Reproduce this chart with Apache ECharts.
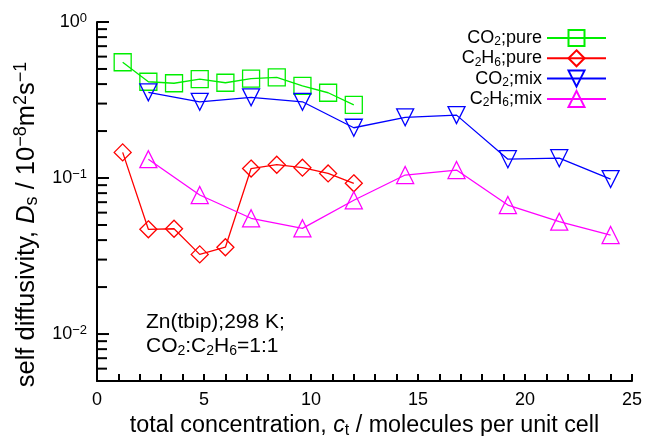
<!DOCTYPE html>
<html><head><meta charset="utf-8">
<script src="https://cdn.jsdelivr.net/npm/echarts@6/dist/echarts.min.js"></script>
<style>html,body{margin:0;padding:0;background:#fff}#c{width:645px;height:436px}</style>
</head><body><div id="c"></div>
<script>
const xPure = [1.2, 2.4, 3.6, 4.8, 6.0, 7.2, 8.4, 9.6, 10.8, 12.0];
const xMix = [2.4, 4.8, 7.2, 9.6, 12.0, 14.4, 16.8, 19.2, 21.6, 24.0];
const co2Pure = [0.552, 0.414, 0.405, 0.431, 0.408, 0.433, 0.442, 0.389, 0.352, 0.294];
const c2h6Pure = [0.146, 0.0469, 0.0473, 0.0324, 0.0360, 0.115, 0.1217, 0.1165, 0.107, 0.0925];
const co2Mix = [0.354, 0.308, 0.329, 0.308, 0.210, 0.245, 0.253, 0.132, 0.134, 0.0985];
const c2h6Mix = [0.132, 0.0778, 0.0552, 0.0476, 0.072, 0.1045, 0.1125, 0.0671, 0.0525, 0.0431];
const yTicks = [0.005,0.006,0.007,0.008,0.009,0.01,0.02,0.03,0.04,0.05,0.06,0.07,0.08,0.09,0.1,0.2,0.3,0.4,0.5,0.6,0.7,0.8,0.9,1];
const seriesNames = ['CO2;pure', 'C2H6;pure', 'CO2;mix', 'C2H6;mix'];
const legendRich = {
  'CO2;pure': '{n|CO}{sub|2}{n|;pure}',
  'C2H6;pure': '{n|C}{sub|2}{n|H}{sub|6}{n|;pure}',
  'CO2;mix': '{n|CO}{sub|2}{n|;mix}',
  'C2H6;mix': '{n|C}{sub|2}{n|H}{sub|6}{n|;mix}'
};
const FONT = 'Liberation Sans, Arial, sans-serif';
function mkRich(fs, ss, off) {
  return {
    n: {fontSize: fs, fontFamily: FONT, color: '#000'},
    i: {fontSize: fs, fontFamily: FONT, color: '#000', fontStyle: 'italic'},
    sub: {fontSize: ss, fontFamily: FONT, color: '#000', verticalAlign: 'bottom', padding: [off, 0, 0, 0]},
    sup: {fontSize: ss, fontFamily: FONT, color: '#000', verticalAlign: 'top', padding: [0, 0, off, 0]}
  };
}
const richLegend = mkRich(18, 12, 8);
const richTick = mkRich(18, 13, 8);
const richX = mkRich(23.3, 16, 10);
const richY = mkRich(25.5, 18, 11);
function pairs(xs, ys) { return xs.map((x, k) => [x, ys[k]]); }
function mk(name, xs, ys, color, symbol, rot) {
  return {
    name, type: 'line', data: pairs(xs, ys), symbol, symbolSize: 17, symbolRotate: rot || 0,
    lineStyle: {color, width: 1.3},
    itemStyle: {color: 'rgba(0,0,0,0)', borderColor: color, borderWidth: 1.3},
    z: 3
  };
}
function isPow10(v) { const lg = Math.log10(v); return Math.abs(lg - Math.round(lg)) < 1e-9; }
const chart = echarts.init(document.getElementById('c'));
chart.setOption({
  animation: false,
  grid: {left: 97, right: 13, top: 22, bottom: 55, outerBoundsMode: 'none'},
  legend: {
    orient: 'vertical', right: 33, top: 24, align: 'right',
    itemWidth: 59, itemHeight: 20, itemGap: 1.3,
    data: seriesNames,
    formatter: n => legendRich[n],
    textStyle: {rich: richLegend, fontSize: 18, fontFamily: FONT}
  },
  xAxis: {
    type: 'value', min: 0, max: 25, interval: 5,
    name: '{n|total concentration, }{i|c}{sub|t}{n| / molecules per unit cell}',
    nameLocation: 'middle', nameGap: 26,
    nameTextStyle: {rich: richX},
    axisLine: {show: true, lineStyle: {color: '#000', width: 2}},
    axisTick: {show: true, inside: true, length: 7, lineStyle: {color: '#000', width: 2}},
    minorTick: {show: true, splitNumber: 5, length: 7, lineStyle: {color: '#000', width: 2}},
    axisLabel: {fontSize: 18, fontFamily: FONT, color: '#000', margin: 10},
    splitLine: {show: true, lineStyle: {color: 'rgba(255,255,255,0)'}}
  },
  yAxis: {
    type: 'log', min: 0.005, max: 1,
    name: '{n|self diffusivity, }{i|D}{sub|s}{n| / 10}{sup|−8}{n|m}{sup|2}{n|s}{sup|−1}',
    nameLocation: 'middle', nameGap: 50, nameRotate: 90,
    nameTextStyle: {rich: richY, padding: [0, 46, 0, 0]},
    axisLine: {show: true, lineStyle: {color: '#000', width: 2}},
    axisTick: {show: false},
    axisLabel: {
      margin: 10,
      formatter: v => isPow10(v) ? '{n|10}{sup|' + String(Math.round(Math.log10(v))).replace('-', '−') + '}' : '',
      rich: richTick
    },
    splitLine: {show: false}
  },
  graphic: [{
    type: 'text', left: 146, top: 312,
    style: {
      text: '{n|Zn(tbip);298 K;}\n{n|CO}{sub|2}{n|:C}{sub|2}{n|H}{sub|6}{n|=1:1}',
      rich: {
        n: {fontSize: 21, fontFamily: FONT, fill: '#000', lineHeight: 24},
        sub: {fontSize: 14, fontFamily: FONT, fill: '#000', verticalAlign: 'bottom', padding: [9, 0, 0, 0], lineHeight: 24}
      }
    }
  }],
  series: [
    mk('CO2;pure', xPure, co2Pure, '#00ee00', 'rect', 0),
    mk('C2H6;pure', xPure, c2h6Pure, '#ff0000', 'diamond', 0),
    mk('CO2;mix', xMix, co2Mix, '#0000ff', 'triangle', 180),
    mk('C2H6;mix', xMix, c2h6Mix, '#ff00ff', 'triangle', 0),
    {
      type: 'custom', clip: false, z: 5,
      data: yTicks.map(v => [0, v]),
      renderItem: (params, api) => {
        const v = api.value(1);
        const p = api.coord([0, v]);
        return {type: 'line', shape: {x1: p[0], y1: p[1], x2: p[0] + (isPow10(v) ? 12 : 10), y2: p[1]},
          style: {stroke: '#000', lineWidth: 2}};
      }
    }
  ]
});
</script></body></html>
